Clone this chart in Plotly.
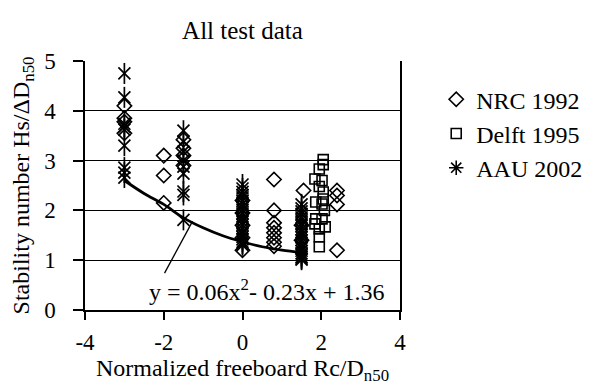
import plotly.graph_objects as go

# ---- data ----
nrc_x = [-3, -3, -3, -3, -2, -2, -2, -1.5, -1.5, -1.5, -1.5,
         0, 0, 0, 0, 0,
         0.8, 0.8, 0.8, 0.8, 0.8, 0.8, 0.8, 0.8,
         1.55, 1.5, 1.5,
         2.4, 2.4, 2.4, 2.4]
nrc_y = [4.1, 3.85, 3.78, 3.55, 3.1, 2.7, 2.15, 3.42, 3.25, 3.1, 2.9,
         1.2, 1.45, 1.7, 1.95, 2.2,
         2.62, 2.0, 1.75, 1.65, 1.55, 1.45, 1.36, 1.28,
         2.4, 1.7, 1.4,
         2.4, 2.3, 2.12, 1.2]

delft_x = [2.05, 2.05, 1.95, 1.84, 2.02, 1.95, 2.05, 2.05, 1.86, 2.02, 2.08,
           1.86, 2.02, 1.84, 1.95, 2.1, 1.95, 1.95]
delft_y = [3.02, 2.92, 2.83, 2.63, 2.6, 2.48, 2.37, 2.23, 2.17, 2.13, 2.0,
           1.83, 1.83, 1.73, 1.63, 1.67, 1.47, 1.27]

aau_x = [-3, -3, -3, -3, -3, -3, -3, -3, -3,
         -1.5, -1.5, -1.5, -1.5, -1.5, -1.5, -1.5, -1.5, -1.5,
         0, 0, 0, 0, 0, 0, 0, 0, 0, 0, 0, 0, 0, 0, 0, 0, 0, 0, 0, 0, 0, 0,
         1.5, 1.5, 1.5, 1.5, 1.5, 1.5, 1.5, 1.5, 1.5, 1.5, 1.5, 1.5, 1.5,
         1.5, 1.5, 1.5, 1.5, 1.5, 1.5, 1.5, 1.5, 1.5]
aau_y = [4.75, 4.27, 3.74, 3.68, 3.62, 3.3, 2.86, 2.76, 2.66,
         3.6, 3.38, 3.18, 3.0, 2.88, 2.74, 2.38, 2.31, 1.81,
         2.52, 2.44, 2.37, 2.31, 2.26, 2.19, 2.13, 2.07, 2.01, 1.94, 1.88,
         1.83, 1.77, 1.71, 1.64, 1.58, 1.53, 1.47, 1.42, 1.37, 1.33, 1.3,
         2.12, 2.04, 1.98, 1.93, 1.86, 1.8, 1.74, 1.69, 1.62, 1.57, 1.51,
         1.46, 1.4, 1.34, 1.29, 1.24, 1.19, 1.14, 1.1, 1.06, 1.03, 1.01]

# trend line
trend_x = [-3, -2.5, -2, -1.5, -1, -0.5, 0, 0.5, 1, 1.5]
trend_y = [2.6, 2.34, 2.12, 1.85, 1.65, 1.49, 1.37, 1.27, 1.2, 1.15]

trend_label = "y = 0.06x<sup>2</sup>- 0.23x + 1.36"
x_ticks = [-4, -2, 0, 2, 4]
x_ticktext = ["-4", "-2", "0", "2", "4"]
y_ticks = [0, 1, 2, 3, 4, 5]

FONT = "Liberation Serif"
TXT = dict(family=FONT, size=23, color="black")
LBL = dict(family=FONT, size=24, color="black")

fig = go.Figure()

fig.add_trace(go.Scatter(
    x=trend_x, y=trend_y, mode="lines", line=dict(color="black", width=2.8, shape="spline"),
    showlegend=False, hoverinfo="skip"))

fig.add_trace(go.Scatter(
    x=nrc_x, y=nrc_y, mode="markers", name="NRC 1992",
    marker=dict(symbol="diamond-open", size=11, color="black", line=dict(width=1.6, color="black"))))

fig.add_trace(go.Scatter(
    x=delft_x, y=delft_y, mode="markers", name="Delft 1995",
    marker=dict(symbol="square-open", size=10, color="black", line=dict(width=1.6, color="black"))))

# AAU asterisk drawn as X + vertical stroke
fig.add_trace(go.Scatter(
    x=aau_x, y=aau_y, mode="markers", name="AAU 2002", legendgroup="aau", showlegend=False,
    marker=dict(symbol="x-thin-open", size=12, color="black", line=dict(width=1.7, color="black"))))
fig.add_trace(go.Scatter(
    x=aau_x, y=aau_y, mode="markers", name="AAU 2002", legendgroup="aau", showlegend=False,
    marker=dict(symbol="line-ns-open", size=15, color="black", line=dict(width=1.7, color="black"))))
fig.add_trace(go.Scatter(
    x=[None], y=[None], mode="markers", name="AAU 2002", legendgroup="aau",
    marker=dict(symbol="asterisk-open", size=12, color="black", line=dict(width=1.6, color="black"))))

fig.add_annotation(x=0.6, y=0.4, xref="x", yref="y", text=trend_label, showarrow=False,
                   font=LBL)
fig.add_shape(type="line", xref="x", yref="y", x0=-1.98, y0=0.74, x1=-1.27, y1=1.78,
              line=dict(color="black", width=1.3))

fig.update_layout(
    template="none",
    width=591, height=382,
    margin=dict(l=77, r=175, t=53, b=80),
    paper_bgcolor="white", plot_bgcolor="white",
    font=TXT,
    title=dict(text="All test data", x=0.5, xref="paper", xanchor="center",
               y=(382 - 22) / 382, yanchor="middle", font=dict(family=FONT, size=25, color="black")),
    legend=dict(x=1.115, y=0.935, xanchor="left", yanchor="top", font=LBL,
                bgcolor="rgba(0,0,0,0)", borderwidth=0, itemwidth=30, tracegroupgap=0),
    xaxis=dict(range=[-4, 4], tickvals=x_ticks, ticktext=x_ticktext, ticks="outside", ticklen=8,
               tickwidth=1.5, tickcolor="black", showline=True, linecolor="black", linewidth=1.5,
               showgrid=False, zeroline=False, tickfont=TXT, ticklabelstandoff=3, automargin=False,
               title=dict(text="Normalized freeboard Rc/D<sub>n50</sub>", standoff=0, font=LBL)),
    yaxis=dict(range=[0, 5], tickvals=y_ticks, ticks="outside", ticklen=10, tickwidth=1.5,
               tickcolor="black", showline=True, linecolor="black", linewidth=1.5, mirror=True,
               showgrid=True, gridcolor="black", gridwidth=1.4, zeroline=False, tickfont=TXT,
               ticklabelstandoff=13, automargin=False,
               title=dict(text="Stability number Hs/ΔD<sub>n50</sub>", standoff=12, font=LBL)),
)

fig.write_html("out.html")
